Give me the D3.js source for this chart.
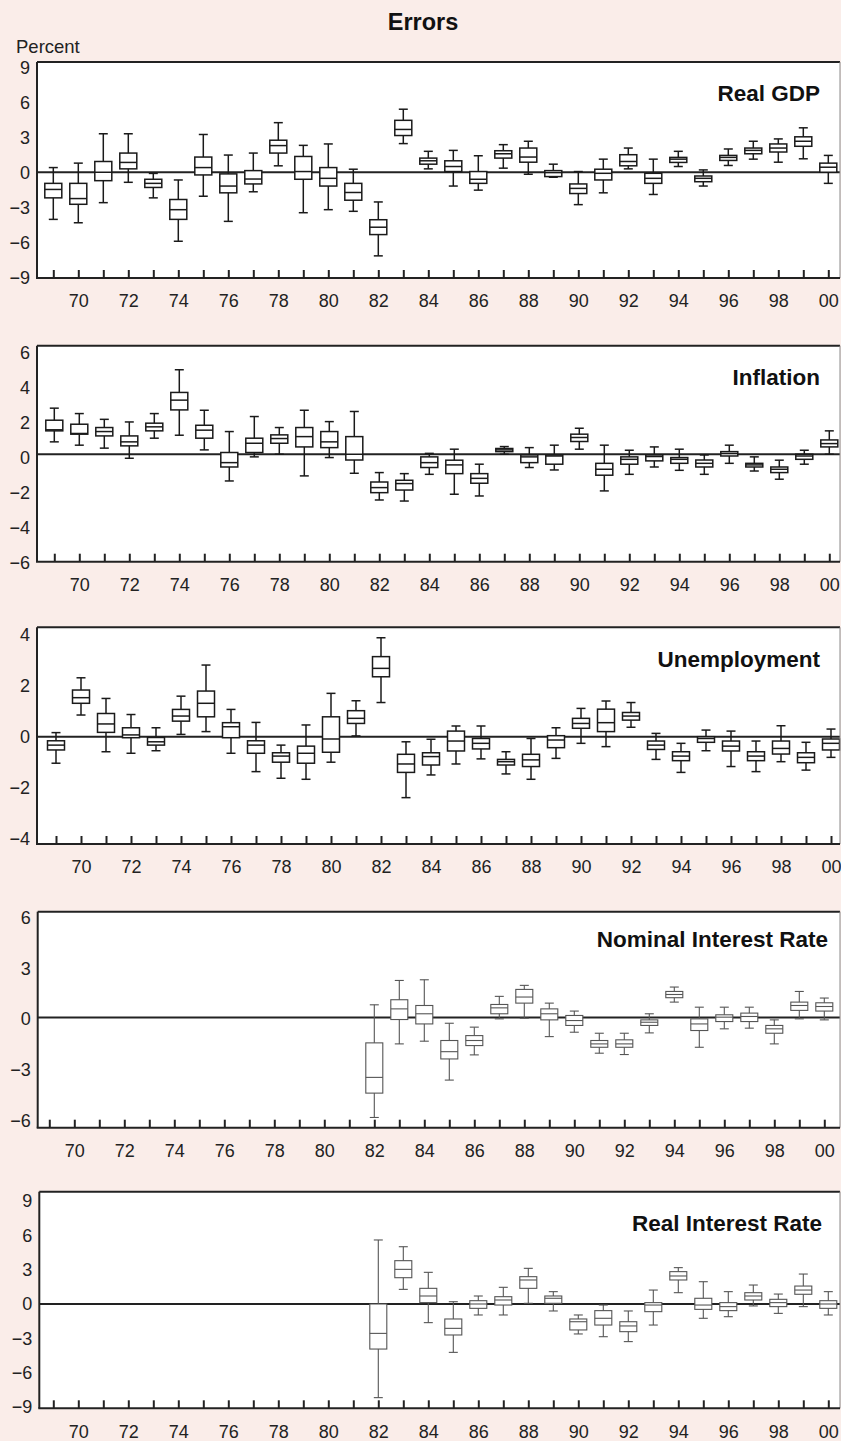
<!DOCTYPE html>
<html><head><meta charset="utf-8">
<script src="https://cdn.jsdelivr.net/npm/d3@7/dist/d3.min.js"></script>
<style>
html,body{margin:0;padding:0;background:#faede9;}
svg{display:block;}
</style></head><body>
<svg id="chart" width="841" height="1441"></svg>
<script>
// ---------- data ----------
const years = [1969,1970,1971,1972,1973,1974,1975,1976,1977,1978,1979,1980,1981,1982,1983,1984,
  1985,1986,1987,1988,1989,1990,1991,1992,1993,1994,1995,1996,1997,1998,1999,2000];
const rateYears = [1982,1983,1984,1985,1986,1987,1988,1989,1990,1991,1992,1993,1994,1995,1996,1997,1998,1999,2000];
const xLabelYears = [1970,1972,1974,1976,1978,1980,1982,1984,1986,1988,1990,1992,1994,1996,1998,2000];
const xLabels = ["70","72","74","76","78","80","82","84","86","88","90","92","94","96","98","00"];
const titles = ["Real GDP","Inflation","Unemployment","Nominal Interest Rate","Real Interest Rate"];
const gdpTicks = [-9,-6,-3,0,3,6,9];
const inflTicks = [-6,-4,-2,0,2,4,6];
const unempTicks = [-4,-2,0,2,4];
const nomTicks = [-6,-3,0,3,6];
const realTicks = [-9,-6,-3,0,3,6,9];

// each entry: [low whisker, Q1, median, Q3, high whisker]
const gdpBoxes = [
  [-4.03,-2.19,-1.47,-0.95,0.4],[-4.32,-2.74,-2.25,-0.95,0.78],[-2.6,-0.72,0,0.92,3.29],[-0.86,0.29,0.84,1.64,3.29],
  [-2.19,-1.3,-0.95,-0.6,-0.1],[-5.9,-4.03,-3.2,-2.33,-0.66],[-2.05,-0.23,0.4,1.3,3.23],[-4.2,-1.76,-1.18,-0.14,1.47],
  [-1.67,-1.0,-0.58,0.14,1.64],[0.55,1.64,2.28,2.74,4.24],[-3.46,-0.6,0.06,1.35,2.3],[-3.2,-1.18,-0.52,0.4,2.42],
  [-3.34,-2.39,-1.73,-0.95,0.26],[-7.15,-5.33,-4.7,-4.06,-2.54],[2.45,3.14,3.66,4.44,5.39],[0.29,0.69,0.98,1.21,1.79],
  [-1.18,0.06,0.49,0.98,1.87],[-1.53,-0.95,-0.6,0.06,1.41],[0.35,1.21,1.58,1.84,2.36],[-0.17,0.86,1.3,2.07,2.65],
  [-0.43,-0.37,-0.03,0.14,0.69],[-2.77,-1.82,-1.38,-1.0,0.06],[-1.76,-0.66,-0.09,0.26,1.12],[0.29,0.55,0.92,1.5,2.07],
  [-1.9,-0.95,-0.52,-0.09,1.12],[0.49,0.84,1.12,1.27,1.79],[-1.18,-0.81,-0.52,-0.32,0.2],[0.58,1.01,1.27,1.44,1.99],
  [1.12,1.58,1.87,2.07,2.65],[0.86,1.73,2.07,2.42,2.85],[1.15,2.22,2.65,3.03,3.8],[-0.95,0,0.43,0.78,1.44]
];
const inflBoxes = [
  [0.71,1.34,1.4,1.95,2.64],[0.52,1.15,1.19,1.72,2.33],[0.35,1.05,1.3,1.53,2.0],[-0.23,0.48,0.71,1.05,1.85],
  [0.92,1.34,1.57,1.78,2.33],[1.09,2.54,3.1,3.54,4.84],[0.25,0.92,1.38,1.66,2.52],[-1.53,-0.73,-0.48,0.1,1.3],
  [-0.15,0.1,0.63,0.92,2.16],[0,0.63,0.9,1.11,1.53],[-1.24,0.42,1.01,1.53,2.52],[-0.19,0.38,0.71,1.3,1.87],
  [-1.09,-0.33,0,1.01,2.45],[-2.62,-2.2,-1.91,-1.59,-1.05],[-2.68,-2.05,-1.68,-1.49,-1.11],[-1.15,-0.76,-0.48,-0.15,0.05],
  [-2.29,-1.11,-0.61,-0.34,0.29],[-2.39,-1.66,-1.38,-1.11,-0.57],[0,0.15,0.25,0.33,0.44],[-0.76,-0.48,-0.15,-0.04,0.38],
  [-0.9,-0.57,-0.1,-0.04,0.52],[0.29,0.73,0.96,1.15,1.49],[-2.1,-1.2,-0.86,-0.52,0.52],[-1.15,-0.57,-0.29,-0.15,0.23],
  [-0.73,-0.38,-0.13,-0.04,0.42],[-0.92,-0.52,-0.29,-0.19,0.29],[-1.15,-0.73,-0.52,-0.33,-0.04],[-0.52,-0.1,0.04,0.15,0.52],
  [-0.96,-0.73,-0.61,-0.52,-0.15],[-1.43,-1.05,-0.86,-0.73,-0.34],[-0.57,-0.29,-0.1,0,0.23],[0,0.42,0.61,0.82,1.34]
];
const unempBoxes = [
  [-1.04,-0.52,-0.33,-0.16,0.16],[0.85,1.31,1.53,1.83,2.31],[-0.59,0.17,0.5,0.91,1.5],[-0.65,-0.04,0.07,0.35,0.87],
  [-0.55,-0.33,-0.2,-0.03,0.35],[0.09,0.61,0.81,1.07,1.59],[0.2,0.78,1.31,1.79,2.81],[-0.65,-0.04,0.39,0.55,1.07],
  [-1.37,-0.65,-0.33,-0.16,0.56],[-1.63,-1.0,-0.76,-0.63,-0.33],[-1.67,-1.04,-0.65,-0.37,0.46],[-1.0,-0.61,-0.09,0.78,1.7],
  [0.03,0.52,0.72,1.02,1.41],[1.34,2.35,2.68,3.14,3.88],[-2.39,-1.4,-1.07,-0.69,-0.2],[-1.5,-1.11,-0.78,-0.63,-0.1],
  [-1.07,-0.56,-0.17,0.22,0.42],[-0.87,-0.48,-0.26,-0.07,0.42],[-1.46,-1.11,-0.98,-0.89,-0.59],[-1.67,-1.17,-0.91,-0.69,-0.07],
  [-0.85,-0.43,-0.13,0.04,0.35],[-0.26,0.33,0.52,0.72,1.11],[-0.39,0.2,0.55,1.08,1.4],[0.37,0.65,0.81,0.95,1.34],
  [-0.89,-0.5,-0.33,-0.17,0.13],[-1.4,-0.94,-0.76,-0.59,-0.26],[-0.55,-0.22,-0.07,0,0.26],[-1.17,-0.56,-0.37,-0.17,0.22],
  [-1.37,-0.94,-0.76,-0.59,-0.17],[-0.98,-0.68,-0.46,-0.17,0.43],[-1.31,-1.02,-0.81,-0.63,-0.22],[-0.81,-0.52,-0.26,-0.09,0.3]
];
const nomBoxes = [
  [-5.91,-4.47,-3.54,-1.5,0.75],[-1.56,-0.12,0.51,1.05,2.19],[-1.4,-0.38,0.22,0.71,2.23],[-3.7,-2.45,-2.02,-1.36,-0.34],
  [-2.21,-1.66,-1.36,-1.07,-0.57],[-0.08,0.22,0.57,0.77,1.25],[-0.04,0.85,1.21,1.66,1.9],[-1.13,-0.14,0.22,0.51,0.85],
  [-0.87,-0.47,-0.18,0.12,0.38],[-2.11,-1.76,-1.56,-1.36,-0.93],[-2.19,-1.76,-1.56,-1.32,-0.93],[-0.91,-0.47,-0.28,-0.14,0.22],
  [0.91,1.17,1.36,1.54,1.8],[-1.76,-0.77,-0.38,-0.08,0.61],[-0.67,-0.24,0.02,0.16,0.61],[-0.63,-0.24,0.06,0.26,0.61],
  [-1.56,-0.93,-0.67,-0.47,-0.14],[-0.08,0.42,0.71,0.91,1.54],[-0.14,0.38,0.65,0.87,1.15]
];
const realBoxes = [
  [-8.19,-3.94,-2.57,0,5.6],[1.28,2.3,3.03,3.79,5.01],[-1.63,0.12,0.7,1.37,2.77],[-4.23,-2.71,-2.13,-1.31,0.2],
  [-0.96,-0.38,0,0.29,0.7],[-0.96,-0.09,0.35,0.64,1.46],[0.06,1.37,2.1,2.39,3.12],[-0.61,0.06,0.5,0.7,1.08],
  [-2.62,-2.27,-1.55,-1.31,-0.96],[-2.86,-1.84,-1.25,-0.58,-0.09],[-3.29,-2.42,-1.92,-1.55,-0.61],[-1.84,-0.67,-0.09,0.12,1.22],
  [0.99,2.1,2.45,2.83,3.18],[-1.25,-0.47,-0.09,0.5,1.95],[-1.11,-0.58,-0.23,0.12,1.08],[-0.17,0.35,0.7,0.99,1.66],
  [-0.82,-0.23,0.12,0.41,0.87],[-0.23,0.85,1.22,1.57,2.62],[-0.96,-0.38,0,0.29,1.08]
];

// ---------- layout ----------
const W = 841, RIGHT = 840;
const FONT = "'Liberation Sans', Arial, Helvetica, sans-serif";
const panels = [
  {title:titles[0], yrs:years, boxes:gdpBoxes, ticks:gdpTicks, dom:[-9,9], rng:[277.5,67], top:62, bottom:278, left:37, x0:53.3, tx:820, ty:101, col:"#1a1a1a", sw:1.5, ldy:0.5},
  {title:titles[1], yrs:years, boxes:inflBoxes, ticks:inflTicks, dom:[-6,6], rng:[559,349.5], top:345.7, bottom:561.7, left:37, x0:54.3, tx:820, ty:385, col:"#1a1a1a", sw:1.5, ldy:3.5},
  {title:titles[2], yrs:years, boxes:unempBoxes, ticks:unempTicks, dom:[-4,4], rng:[838.7,634.7], top:627.3, bottom:844, left:37, x0:56, tx:820, ty:667, col:"#1a1a1a", sw:1.5, ldy:0.5},
  {title:titles[3], yrs:rateYears, boxes:nomBoxes, ticks:nomTicks, dom:[-6,6], rng:[1119,916], top:911.7, bottom:1127.7, left:37.7, x0:49.3, tx:828, ty:947, col:"#555", sw:1.1, ldy:1.5},
  {title:titles[4], yrs:rateYears, boxes:realBoxes, ticks:realTicks, dom:[-9,9], rng:[1406.9,1201.1], top:1191.7, bottom:1408.3, left:39.3, x0:53.3, tx:822, ty:1231, col:"#555", sw:1.1, ldy:0}
];

const svg = d3.select("#chart");
svg.append("rect").attr("width", W).attr("height", 1441).attr("fill", "#faede9");

svg.append("text").attr("x", 423).attr("y", 30).attr("text-anchor", "middle")
  .attr("font-family", FONT).attr("font-weight", "bold").attr("font-size", 23.5).attr("fill", "#111")
  .text("Errors");
svg.append("text").attr("x", 16).attr("y", 53).attr("font-family", FONT).attr("font-size", 18.5).attr("fill", "#222")
  .text("Percent");

const BOXW = 17, CAPW = 9;

panels.forEach(p => {
  const g = svg.append("g");
  const x = d3.scaleLinear().domain([1969, 2000]).range([p.x0, p.x0 + 775]);
  const y = d3.scaleLinear().domain(p.dom).range(p.rng);

  // plot background
  g.append("rect").attr("x", p.left).attr("y", p.top).attr("width", RIGHT - p.left).attr("height", p.bottom - p.top)
    .attr("fill", "#fff");

  // zero line
  g.append("line").attr("x1", p.left).attr("x2", RIGHT).attr("y1", y(0)).attr("y2", y(0))
    .attr("stroke", "#222").attr("stroke-width", 2);

  // boxes
  const bx = g.append("g").selectAll("g").data(p.boxes.map((b, i) => ({yr: p.yrs[i], b})))
    .join("g").attr("stroke", p.col).attr("stroke-width", p.sw).attr("fill", "none");
  bx.append("line").attr("x1", d => x(d.yr)).attr("x2", d => x(d.yr))
    .attr("y1", d => y(d.b[0])).attr("y2", d => y(d.b[4]));
  bx.append("line").attr("x1", d => x(d.yr) - CAPW/2).attr("x2", d => x(d.yr) + CAPW/2)
    .attr("y1", d => y(d.b[0])).attr("y2", d => y(d.b[0]));
  bx.append("line").attr("x1", d => x(d.yr) - CAPW/2).attr("x2", d => x(d.yr) + CAPW/2)
    .attr("y1", d => y(d.b[4])).attr("y2", d => y(d.b[4]));
  bx.append("rect").attr("x", d => x(d.yr) - BOXW/2).attr("width", BOXW)
    .attr("y", d => y(d.b[3])).attr("height", d => Math.max(1, y(d.b[1]) - y(d.b[3])))
    .attr("fill", "#fff");
  bx.append("line").attr("x1", d => x(d.yr) - BOXW/2).attr("x2", d => x(d.yr) + BOXW/2)
    .attr("y1", d => y(d.b[2])).attr("y2", d => y(d.b[2]));

  // frame
  g.append("line").attr("x1", p.left).attr("x2", RIGHT).attr("y1", p.top).attr("y2", p.top)
    .attr("stroke", "#222").attr("stroke-width", 2);
  g.append("line").attr("x1", p.left).attr("x2", p.left).attr("y1", p.top).attr("y2", p.bottom)
    .attr("stroke", "#222").attr("stroke-width", 2);
  g.append("line").attr("x1", RIGHT).attr("x2", RIGHT).attr("y1", p.top).attr("y2", p.bottom)
    .attr("stroke", "#8a8a8a").attr("stroke-width", 1);

  // x axis
  const xa = g.append("g").attr("transform", `translate(0,${p.bottom})`)
    .call(d3.axisBottom(x).tickValues(years).tickSizeInner(-8).tickSizeOuter(0).tickPadding(16.5)
      .tickFormat(d => { const k = xLabelYears.indexOf(d); return k >= 0 ? xLabels[k] : ""; }));
  xa.select(".domain").remove();
  xa.selectAll(".tick line").attr("stroke", "#222").attr("stroke-width", 2);
  xa.selectAll(".tick text").attr("font-family", FONT).attr("font-size", 18).attr("fill", "#222");
  g.append("line").attr("x1", p.left - 1).attr("x2", RIGHT).attr("y1", p.bottom).attr("y2", p.bottom)
    .attr("stroke", "#222").attr("stroke-width", 2);

  // y axis
  const ya = g.append("g").attr("transform", `translate(${p.left},${p.ldy})`)
    .call(d3.axisLeft(y).tickValues(p.ticks).tickSize(0).tickPadding(7));
  ya.select(".domain").remove();
  ya.selectAll(".tick text").attr("font-family", FONT).attr("font-size", 18).attr("fill", "#222");

  // panel title
  g.append("text").attr("x", p.tx).attr("y", p.ty).attr("text-anchor", "end")
    .attr("font-family", FONT).attr("font-weight", "bold").attr("font-size", 22.5).attr("fill", "#111")
    .text(p.title);
});
</script>
</body></html>
